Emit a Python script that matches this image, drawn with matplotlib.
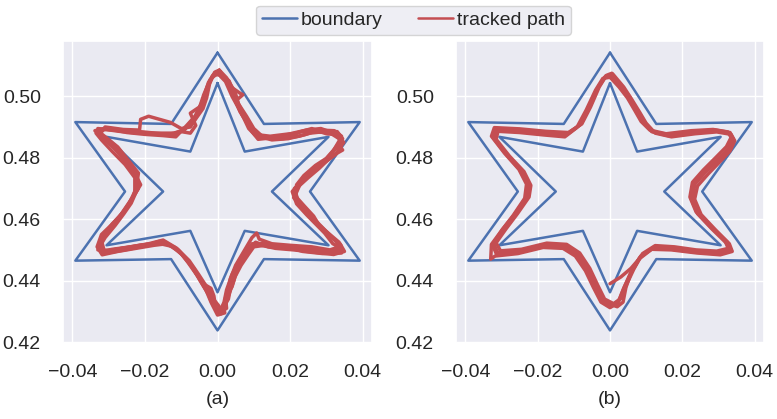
import numpy as np
import matplotlib
matplotlib.use("Agg")
import matplotlib.pyplot as plt
from matplotlib.lines import Line2D
import seaborn as sns

# boundary of the track (outer and inner hexagram), clockwise from the top tip
outer_x = [0.0, 0.0128, 0.0392, 0.0255, 0.0392, 0.0128, 0.0, -0.0128, -0.0392, -0.0255, -0.0392, -0.0128, 0.0]
outer_y = [0.5142, 0.4910, 0.4916, 0.4690, 0.4465, 0.4470, 0.4238, 0.4470, 0.4465, 0.4690, 0.4916, 0.4910, 0.5142]
inner_x = [0.0, 0.0075, 0.0306, 0.0150, 0.0306, 0.0075, 0.0, -0.0075, -0.0306, -0.0150, -0.0306, -0.0075, 0.0]
inner_y = [0.5043, 0.4820, 0.4868, 0.4690, 0.4515, 0.4562, 0.4362, 0.4562, 0.4515, 0.4690, 0.4868, 0.4820, 0.5043]

# tracked path (a), one list per lap
lap_a1 = [(0.0007, 0.5081), (0.0030, 0.5040), (0.0042, 0.5005), (0.0062, 0.4950), (0.0078, 0.4920), (0.0095, 0.4885),
          (0.0112, 0.4860), (0.0160, 0.4866), (0.0200, 0.4870), (0.0230, 0.4885), (0.0270, 0.4884), (0.0310, 0.4881),
          (0.0338, 0.4860), (0.0318, 0.4820), (0.0295, 0.4790), (0.0262, 0.4760), (0.0240, 0.4730), (0.0212, 0.4700),
          (0.0222, 0.4660), (0.0250, 0.4625), (0.0275, 0.4590), (0.0300, 0.4560), (0.0325, 0.4530), (0.0345, 0.4500),
          (0.0300, 0.4493), (0.0250, 0.4500), (0.0190, 0.4505), (0.0140, 0.4510), (0.0105, 0.4525), (0.0080, 0.4500),
          (0.0060, 0.4465), (0.0040, 0.4420), (0.0025, 0.4370), (0.0018, 0.4330), (0.0008, 0.4300), (-0.0012, 0.4320),
          (-0.0025, 0.4355), (-0.0048, 0.4400), (-0.0070, 0.4445), (-0.0098, 0.4485), (-0.0130, 0.4515), (-0.0160, 0.4528),
          (-0.0205, 0.4512), (-0.0255, 0.4500), (-0.0305, 0.4490), (-0.0328, 0.4505), (-0.0315, 0.4545), (-0.0290, 0.4585),
          (-0.0262, 0.4620), (-0.0240, 0.4658), (-0.0218, 0.4700), (-0.0225, 0.4745), (-0.0250, 0.4785), (-0.0280, 0.4828),
          (-0.0315, 0.4865), (-0.0332, 0.4885), (-0.0300, 0.4895), (-0.0250, 0.4882), (-0.0200, 0.4876), (-0.0150, 0.4872),
          (-0.0115, 0.4868), (-0.0085, 0.4905), (-0.0062, 0.4935), (-0.0045, 0.4975), (-0.0030, 0.5020), (-0.0015, 0.5065),
          (0.0007, 0.5081)]
lap_a2 = [(0.0000, 0.5075), (0.0022, 0.5048), (0.0040, 0.5000), (0.0055, 0.4968), (0.0072, 0.4930), (0.0086, 0.4895),
          (0.0105, 0.4872), (0.0150, 0.4858), (0.0195, 0.4862), (0.0240, 0.4875), (0.0280, 0.4890), (0.0322, 0.4888),
          (0.0342, 0.4870), (0.0330, 0.4835), (0.0305, 0.4800), (0.0275, 0.4770), (0.0250, 0.4745), (0.0225, 0.4715),
          (0.0206, 0.4690), (0.0218, 0.4650), (0.0245, 0.4615), (0.0270, 0.4585), (0.0295, 0.4555), (0.0318, 0.4520),
          (0.0335, 0.4510), (0.0310, 0.4500), (0.0260, 0.4510), (0.0200, 0.4515), (0.0150, 0.4520), (0.0115, 0.4535),
          (0.0108, 0.4555), (0.0095, 0.4540), (0.0070, 0.4490), (0.0050, 0.4450), (0.0035, 0.4405), (0.0028, 0.4360),
          (0.0022, 0.4310), (0.0010, 0.4292), (-0.0005, 0.4310), (-0.0010, 0.4350), (-0.0018, 0.4375), (-0.0040, 0.4390),
          (-0.0060, 0.4425), (-0.0085, 0.4470), (-0.0112, 0.4505), (-0.0150, 0.4532), (-0.0190, 0.4520), (-0.0240, 0.4510),
          (-0.0290, 0.4502), (-0.0322, 0.4495), (-0.0325, 0.4525), (-0.0300, 0.4565), (-0.0275, 0.4600), (-0.0252, 0.4640),
          (-0.0232, 0.4675), (-0.0212, 0.4712), (-0.0232, 0.4760), (-0.0262, 0.4800), (-0.0292, 0.4840), (-0.0325, 0.4875),
          (-0.0310, 0.4900), (-0.0260, 0.4892), (-0.0215, 0.4890), (-0.0212, 0.4925), (-0.0190, 0.4935), (-0.0160, 0.4925),
          (-0.0130, 0.4915), (-0.0100, 0.4895), (-0.0075, 0.4900), (-0.0058, 0.4930), (-0.0040, 0.4960), (-0.0030, 0.4995),
          (-0.0022, 0.5040), (-0.0008, 0.5078), (0.0000, 0.5075)]
lap_a3 = [(0.0012, 0.5070), (0.0040, 0.5028), (0.0062, 0.5010), (0.0070, 0.5005), (0.0050, 0.4985), (0.0068, 0.4940),
          (0.0088, 0.4905), (0.0102, 0.4880), (0.0118, 0.4865), (0.0170, 0.4870), (0.0215, 0.4880), (0.0260, 0.4895),
          (0.0300, 0.4878), (0.0330, 0.4875), (0.0348, 0.4850), (0.0325, 0.4810), (0.0290, 0.4780), (0.0255, 0.4750),
          (0.0230, 0.4720), (0.0215, 0.4680), (0.0228, 0.4640), (0.0262, 0.4600), (0.0285, 0.4575), (0.0310, 0.4545),
          (0.0338, 0.4520), (0.0350, 0.4495), (0.0320, 0.4485), (0.0270, 0.4492), (0.0210, 0.4500), (0.0160, 0.4505),
          (0.0120, 0.4515), (0.0095, 0.4520), (0.0075, 0.4475), (0.0055, 0.4440), (0.0045, 0.4400), (0.0030, 0.4350),
          (0.0015, 0.4320), (0.0020, 0.4295), (0.0000, 0.4288), (-0.0018, 0.4330), (-0.0032, 0.4370), (-0.0055, 0.4415),
          (-0.0082, 0.4460), (-0.0105, 0.4495), (-0.0140, 0.4520), (-0.0175, 0.4515), (-0.0225, 0.4505), (-0.0275, 0.4495),
          (-0.0318, 0.4484), (-0.0332, 0.4510), (-0.0320, 0.4550), (-0.0285, 0.4590), (-0.0255, 0.4630), (-0.0235, 0.4665),
          (-0.0224, 0.4705), (-0.0218, 0.4750), (-0.0245, 0.4790), (-0.0275, 0.4835), (-0.0322, 0.4880), (-0.0330, 0.4895),
          (-0.0290, 0.4890), (-0.0240, 0.4885), (-0.0190, 0.4880), (-0.0140, 0.4875), (-0.0100, 0.4885), (-0.0075, 0.4880),
          (-0.0060, 0.4905), (-0.0075, 0.4945), (-0.0050, 0.4965), (-0.0035, 0.4990), (-0.0028, 0.5030), (-0.0012, 0.5070),
          (0.0012, 0.5070)]
lap_a4 = [(0.0005, 0.5085), (0.0025, 0.5060), (0.0048, 0.5015), (0.0058, 0.4975), (0.0080, 0.4935), (0.0100, 0.4895),
          (0.0125, 0.4868), (0.0180, 0.4862), (0.0225, 0.4870), (0.0255, 0.4880), (0.0295, 0.4885), (0.0330, 0.4885),
          (0.0345, 0.4862), (0.0335, 0.4840), (0.0345, 0.4825), (0.0315, 0.4805), (0.0280, 0.4765), (0.0250, 0.4735),
          (0.0222, 0.4705), (0.0210, 0.4670), (0.0235, 0.4635), (0.0258, 0.4605), (0.0288, 0.4570), (0.0315, 0.4540),
          (0.0340, 0.4515), (0.0342, 0.4490), (0.0290, 0.4488), (0.0235, 0.4495), (0.0185, 0.4512), (0.0130, 0.4515),
          (0.0100, 0.4510), (0.0085, 0.4485), (0.0065, 0.4450), (0.0048, 0.4412), (0.0040, 0.4380), (0.0022, 0.4345),
          (0.0025, 0.4310), (0.0005, 0.4295), (-0.0020, 0.4345), (-0.0040, 0.4388), (-0.0065, 0.4440), (-0.0090, 0.4475),
          (-0.0120, 0.4510), (-0.0165, 0.4522), (-0.0215, 0.4515), (-0.0265, 0.4505), (-0.0312, 0.4495), (-0.0320, 0.4530),
          (-0.0295, 0.4575), (-0.0268, 0.4610), (-0.0245, 0.4648), (-0.0228, 0.4690), (-0.0228, 0.4735), (-0.0255, 0.4778),
          (-0.0290, 0.4820), (-0.0320, 0.4858), (-0.0335, 0.4880), (-0.0315, 0.4893), (-0.0265, 0.4885), (-0.0215, 0.4880),
          (-0.0165, 0.4880), (-0.0120, 0.4880), (-0.0090, 0.4892), (-0.0070, 0.4922), (-0.0050, 0.4950), (-0.0040, 0.4990),
          (-0.0025, 0.5045), (-0.0005, 0.5080), (0.0005, 0.5085)]
lap_a5 = [(0.0003, 0.5078), (0.0032, 0.5050), (0.0052, 0.4990), (0.0070, 0.4945), (0.0092, 0.4900), (0.0110, 0.4875),
          (0.0145, 0.4870), (0.0200, 0.4878), (0.0245, 0.4890), (0.0285, 0.4895), (0.0325, 0.4878), (0.0340, 0.4855),
          (0.0320, 0.4825), (0.0300, 0.4798), (0.0270, 0.4775), (0.0238, 0.4742), (0.0218, 0.4712), (0.0215, 0.4675),
          (0.0240, 0.4642), (0.0265, 0.4610), (0.0280, 0.4580), (0.0308, 0.4552), (0.0335, 0.4525), (0.0340, 0.4502),
          (0.0315, 0.4495), (0.0255, 0.4505), (0.0205, 0.4508), (0.0165, 0.4515), (0.0125, 0.4522), (0.0088, 0.4512),
          (0.0068, 0.4470), (0.0052, 0.4425), (0.0038, 0.4390), (0.0030, 0.4340), (0.0012, 0.4305), (-0.0008, 0.4335),
          (-0.0030, 0.4380), (-0.0052, 0.4420), (-0.0078, 0.4465), (-0.0108, 0.4500), (-0.0145, 0.4525), (-0.0195, 0.4518),
          (-0.0245, 0.4508), (-0.0300, 0.4498), (-0.0330, 0.4500), (-0.0310, 0.4540), (-0.0282, 0.4580), (-0.0258, 0.4618),
          (-0.0238, 0.4652), (-0.0222, 0.4695), (-0.0222, 0.4740), (-0.0240, 0.4782), (-0.0285, 0.4832), (-0.0318, 0.4868),
          (-0.0338, 0.4888), (-0.0305, 0.4897), (-0.0255, 0.4888), (-0.0205, 0.4884), (-0.0155, 0.4878), (-0.0118, 0.4874),
          (-0.0095, 0.4890), (-0.0068, 0.4918), (-0.0052, 0.4955), (-0.0038, 0.5005), (-0.0020, 0.5055), (0.0003, 0.5078)]

# tracked path (b): start segment and laps
start_b = [(0.0000, 0.4390), (0.0030, 0.4412), (0.0058, 0.4440), (0.0080, 0.4470)]
lap_b1 = [(0.0000, 0.5068), (0.0030, 0.5035), (0.0055, 0.4997), (0.0075, 0.4955), (0.0092, 0.4921), (0.0115, 0.4885),
          (0.0160, 0.4872), (0.0230, 0.4883), (0.0290, 0.4888), (0.0330, 0.4880), (0.0340, 0.4862), (0.0328, 0.4830),
          (0.0300, 0.4795), (0.0265, 0.4755), (0.0235, 0.4715), (0.0228, 0.4670), (0.0245, 0.4620), (0.0285, 0.4570),
          (0.0325, 0.4525), (0.0333, 0.4500), (0.0300, 0.4490), (0.0240, 0.4495), (0.0175, 0.4505), (0.0120, 0.4508),
          (0.0085, 0.4480), (0.0060, 0.4430), (0.0040, 0.4380), (0.0025, 0.4335), (0.0005, 0.4318), (-0.0020, 0.4335),
          (-0.0040, 0.4380), (-0.0062, 0.4435), (-0.0090, 0.4485), (-0.0125, 0.4512), (-0.0180, 0.4515), (-0.0250, 0.4495),
          (-0.0310, 0.4490), (-0.0322, 0.4520), (-0.0295, 0.4565), (-0.0262, 0.4615), (-0.0230, 0.4670), (-0.0225, 0.4712),
          (-0.0245, 0.4758), (-0.0285, 0.4810), (-0.0322, 0.4865), (-0.0315, 0.4893), (-0.0250, 0.4888), (-0.0180, 0.4880),
          (-0.0120, 0.4875), (-0.0085, 0.4905), (-0.0060, 0.4960), (-0.0035, 0.5025), (-0.0015, 0.5062), (0.0000, 0.5068)]
lap_b2 = [(0.0008, 0.5072), (0.0038, 0.5030), (0.0060, 0.4990), (0.0082, 0.4948), (0.0100, 0.4912), (0.0125, 0.4880),
          (0.0170, 0.4868), (0.0235, 0.4878), (0.0295, 0.4884), (0.0335, 0.4876), (0.0345, 0.4855), (0.0332, 0.4822),
          (0.0305, 0.4788), (0.0272, 0.4748), (0.0242, 0.4708), (0.0234, 0.4665), (0.0252, 0.4615), (0.0292, 0.4565),
          (0.0330, 0.4520), (0.0338, 0.4495), (0.0305, 0.4484), (0.0240, 0.4490), (0.0170, 0.4500), (0.0115, 0.4502),
          (0.0080, 0.4470), (0.0055, 0.4420), (0.0036, 0.4370), (0.0022, 0.4328), (0.0000, 0.4312), (-0.0025, 0.4330),
          (-0.0046, 0.4378), (-0.0068, 0.4432), (-0.0096, 0.4480), (-0.0130, 0.4505), (-0.0185, 0.4508), (-0.0255, 0.4488),
          (-0.0318, 0.4480), (-0.0330, 0.4470), (-0.0328, 0.4518), (-0.0300, 0.4563), (-0.0268, 0.4612), (-0.0236, 0.4668),
          (-0.0231, 0.4714), (-0.0252, 0.4762), (-0.0292, 0.4815), (-0.0328, 0.4870), (-0.0320, 0.4898), (-0.0250, 0.4894),
          (-0.0178, 0.4886), (-0.0115, 0.4882), (-0.0078, 0.4910), (-0.0054, 0.4965), (-0.0030, 0.5030), (-0.0010, 0.5068),
          (0.0005, 0.5075)]
lap_b3 = [(0.0000, 0.5062), (0.0025, 0.5030), (0.0048, 0.4995), (0.0068, 0.4955), (0.0086, 0.4918), (0.0110, 0.4890),
          (0.0155, 0.4878), (0.0225, 0.4888), (0.0285, 0.4892), (0.0326, 0.4884), (0.0335, 0.4866), (0.0322, 0.4836),
          (0.0292, 0.4800), (0.0258, 0.4760), (0.0228, 0.4720), (0.0221, 0.4672), (0.0238, 0.4624), (0.0278, 0.4575),
          (0.0318, 0.4530), (0.0327, 0.4505), (0.0295, 0.4496), (0.0238, 0.4500), (0.0178, 0.4510), (0.0125, 0.4514),
          (0.0090, 0.4488), (0.0066, 0.4438), (0.0046, 0.4388), (0.0030, 0.4342), (0.0010, 0.4325), (-0.0015, 0.4340),
          (-0.0034, 0.4385), (-0.0056, 0.4440), (-0.0084, 0.4490), (-0.0120, 0.4518), (-0.0175, 0.4522), (-0.0245, 0.4502),
          (-0.0303, 0.4497), (-0.0315, 0.4523), (-0.0288, 0.4568), (-0.0256, 0.4618), (-0.0224, 0.4672), (-0.0219, 0.4710),
          (-0.0238, 0.4755), (-0.0278, 0.4805), (-0.0315, 0.4860), (-0.0310, 0.4886), (-0.0250, 0.4882), (-0.0182, 0.4874),
          (-0.0125, 0.4868), (-0.0092, 0.4898), (-0.0066, 0.4955), (-0.0040, 0.5020), (-0.0020, 0.5058), (0.0000, 0.5062)]
lap_b4 = [(0.0004, 0.5066), (0.0034, 0.5032), (0.0052, 0.4992), (0.0078, 0.4950), (0.0096, 0.4915), (0.0120, 0.4884),
          (0.0165, 0.4875), (0.0232, 0.4885), (0.0292, 0.4890), (0.0332, 0.4882), (0.0342, 0.4858), (0.0330, 0.4826),
          (0.0298, 0.4792), (0.0262, 0.4752), (0.0232, 0.4712), (0.0224, 0.4668), (0.0242, 0.4618), (0.0282, 0.4568),
          (0.0322, 0.4522), (0.0336, 0.4498), (0.0302, 0.4487), (0.0242, 0.4492), (0.0172, 0.4502), (0.0118, 0.4505),
          (0.0082, 0.4475), (0.0058, 0.4425), (0.0044, 0.4378), (0.0036, 0.4330), (0.0020, 0.4315), (-0.0022, 0.4332),
          (-0.0043, 0.4382), (-0.0065, 0.4436), (-0.0093, 0.4483), (-0.0128, 0.4508), (-0.0182, 0.4512), (-0.0252, 0.4492),
          (-0.0314, 0.4486), (-0.0325, 0.4516), (-0.0298, 0.4566), (-0.0265, 0.4614), (-0.0233, 0.4669), (-0.0228, 0.4713),
          (-0.0248, 0.4760), (-0.0288, 0.4812), (-0.0325, 0.4868), (-0.0318, 0.4895), (-0.0250, 0.4890), (-0.0180, 0.4882),
          (-0.0118, 0.4878), (-0.0082, 0.4908), (-0.0058, 0.4962), (-0.0033, 0.5028), (-0.0012, 0.5066), (0.0004, 0.5066)]

x_ticks = [-0.04, -0.02, 0.00, 0.02, 0.04]
y_ticks = [0.42, 0.44, 0.46, 0.48, 0.50]
panel_labels = ["(a)", "(b)"]

sns.set_theme(style="darkgrid")
plt.rcParams["font.family"] = ["Liberation Sans", "DejaVu Sans"]

blue = "#4C72B0"
red = "#C44E52"

fig = plt.figure(figsize=(7.77, 4.19), dpi=100)
ax_a = fig.add_axes([0.0811, 0.1814, 0.3977, 0.7208])
ax_b = fig.add_axes([0.5869, 0.1814, 0.3964, 0.7208])

paths = [[lap_a1, lap_a2, lap_a3, lap_a4, lap_a5], [start_b, lap_b1, lap_b2, lap_b3, lap_b4]]

for ax, laps, label in zip([ax_a, ax_b], paths, panel_labels):
    ax.plot(outer_x, outer_y, color=blue, lw=1.8)
    ax.plot(inner_x, inner_y, color=blue, lw=1.8)
    for lap in laps:
        pts = np.array(lap)
        ax.plot(pts[:, 0], pts[:, 1], color=red, lw=2.5, solid_joinstyle="round")
    ax.set_xlim(-0.0426, 0.0426)
    ax.set_ylim(0.4197, 0.5180)
    ax.set_xticks(x_ticks)
    ax.set_yticks(y_ticks)
    ax.tick_params(labelsize=14)
    ax.tick_params(axis="y", pad=10)
    ax.tick_params(axis="x", pad=9)
    ax.set_xlabel(label, fontsize=14, labelpad=7)

handles = [Line2D([], [], color=blue, lw=1.8), Line2D([], [], color=red, lw=1.8)]
fig.legend(handles, ["boundary", "tracked path"], loc="upper center", bbox_to_anchor=(0.532, 1.01), ncol=2,
           fontsize=14, handlelength=1.8, handletextpad=0.2, columnspacing=1.8,
           borderpad=0.3, frameon=True)

fig.savefig("out.png", dpi=100)
